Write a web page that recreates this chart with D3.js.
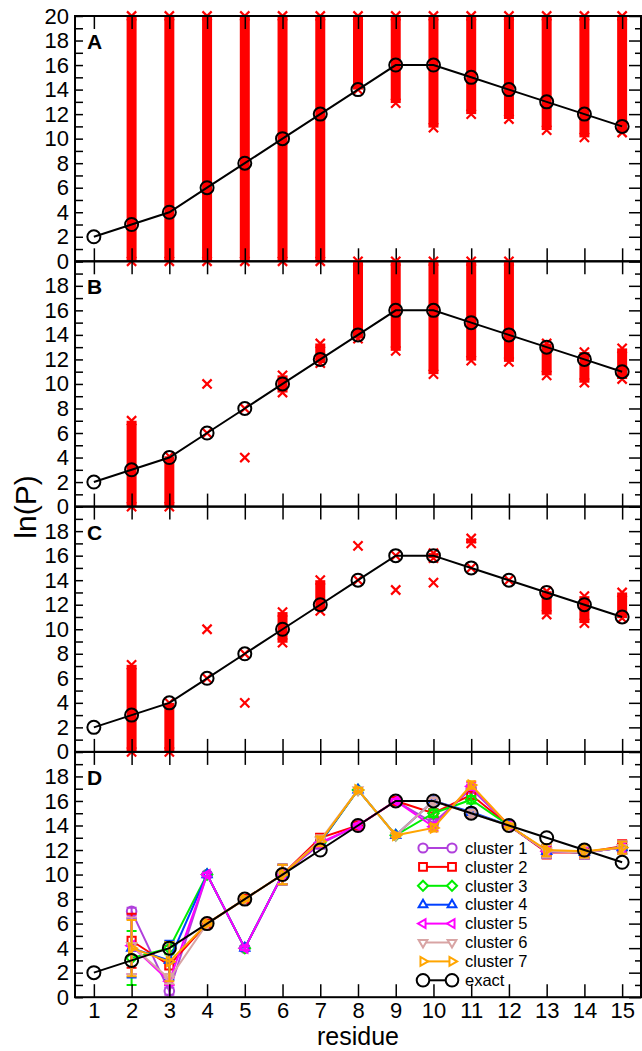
<!DOCTYPE html>
<html>
<head>
<meta charset="utf-8">
<script src="https://cdn.jsdelivr.net/npm/d3@7"></script>
<style>
  body { margin: 0; background: #fff; }
  svg { display: block; }
  text { font-family: "Liberation Sans", Arial, sans-serif; fill: #000; }
</style>
</head>
<body>
<div id="chart"></div>
<script>
// ---- data ----------------------------------------------------------------
const residues = [1, 2, 3, 4, 5, 6, 7, 8, 9, 10, 11, 12, 13, 14, 15];
const exact = [2, 3, 4, 6, 8, 10, 12, 14, 16, 16, 15, 14, 13, 12, 11];

// red crosses, drawn as dense bands: lowest / highest cross per residue
const bandLoA = [null, 0, 0, 0, 0, 0, 0, 14.0, 12.9, 10.9, 12.0, 11.6, 10.7, 10.1, 10.5];
const bandHiA = [null, 20, 20, 20, 20, 20, 20, 20, 20, 20, 20, 20, 20, 20, 20];
const bandLoB = [null, 0, 0, null, null, 9.3, 11.7, 13.7, 12.7, 10.8, 11.9, 11.8, 10.7, 10.1, 10.4];
const bandHiB = [null, 7.0, 4.1, null, null, 10.7, 13.3, 20, 20, 20, 20, 20, 13.3, 12.6, 12.9];
const bandLoC = [null, 0, 0, null, null, 8.9, 11.5, null, null, 15.8, 17.0, null, 11.2, 10.5, 10.9];
const bandHiC = [null, 7.1, 4.0, null, null, 11.4, 14.0, null, null, 16.2, 17.4, null, 13.1, 12.7, 13.0];
// isolated crosses [residue, ln(P)]
const singlesB = [[4, 10], [4, 6], [5, 4], [5, 8]];
const singlesC = [[4, 10], [4, 6], [5, 4], [5, 8], [8, 16.8], [8, 14], [9, 16], [9, 13.2],
                  [10, 13.8], [11, 15], [12, 14]];

// panel D clusters
const clusterNames = ["cluster 1", "cluster 2", "cluster 3", "cluster 4", "cluster 5", "cluster 6", "cluster 7"];
const clusterColors = ["#b040dc", "#ff0000", "#00ee00", "#0040ff", "#ff00ff", "#d8a4a4", "#ffa500"];
const clusterShapes = ["circle", "square", "diamond", "up", "left", "down", "right"];
const cluster1 = [null, 7.0, 0.5, 10, 4, 10, 12.5, 14, 16, 14.2, 17.0, 14, 11.9, 11.8, 12.2];
const cluster2 = [null, 4.6, 2.6, 6, 8, 10, 13.0, 14, 16, 15.0, 16.5, 14, 11.8, 11.8, 12.3];
const cluster3 = [null, 3.2, 4.0, 10, 4, 10, 12.6, 16.9, 13.2, 15.0, 16.1, 14, 11.9, 11.8, 12.2];
const cluster4 = [null, 4.0, 3.0, 10, 4, 10, 12.6, 16.9, 13.2, 16.0, 15.1, 14, 11.9, 11.8, 12.2];
const cluster5 = [null, 4.2, 1.3, 10, 4, 10, 12.6, 14, 16, 13.9, 17.2, 14, 11.9, 11.8, 12.2];
const cluster6 = [null, 4.2, 1.5, 6, 8, 10, 12.8, 16.9, 13.2, 16.0, 15.0, 14, 11.9, 11.8, 12.2];
const cluster7 = [null, 4.0, 2.9, 6, 8, 10, 12.7, 16.9, 13.2, 13.8, 17.3, 14, 12.0, 11.9, 12.2];
// error bar half widths
const err1 = [0, 0.3, 0.3, 0.15, 0.15, 0.8, 0.4, 0.15, 0.15, 0.3, 0.3, 0.15, 0.5, 0.5, 0.5];
const err2 = [0, 2.2, 1.6, 0.15, 0.15, 0.8, 0.3, 0.15, 0.15, 0.3, 0.3, 0.15, 0.5, 0.5, 0.5];
const err3 = [0, 2.2, 0.5, 0.15, 0.15, 0.8, 0.4, 0.15, 0.15, 0.3, 0.3, 0.15, 0.5, 0.5, 0.5];
const err4 = [0, 2.4, 1.6, 0.15, 0.15, 0.8, 0.4, 0.15, 0.15, 0.3, 0.3, 0.15, 0.5, 0.5, 0.5];
const err5 = [0, 2.3, 0.3, 0.15, 0.15, 0.8, 0.4, 0.15, 0.15, 0.3, 0.3, 0.15, 0.5, 0.5, 0.5];
const err6 = [0, 2.3, 0.4, 0.15, 0.15, 0.8, 0.4, 0.15, 0.15, 0.3, 0.3, 0.15, 0.5, 0.5, 0.5];
const err7 = [0, 2.3, 1.6, 0.15, 0.15, 0.8, 0.4, 0.15, 0.15, 0.3, 0.3, 0.15, 0.5, 0.5, 0.5];
const clusters = [cluster1, cluster2, cluster3, cluster4, cluster5, cluster6, cluster7];
const errs = [err1, err2, err3, err4, err5, err6, err7];

const panelLetters = ["A", "B", "C", "D"];
const yMajor = [0, 2, 4, 6, 8, 10, 12, 14, 16, 18, 20];
const yMinor = [1, 3, 5, 7, 9, 11, 13, 15, 17, 19];

// ---- layout --------------------------------------------------------------
const W = 642, H = 1051;
const left = 75, right = 641;
const top0 = 16, panelH = 245.3;

const svg = d3.select("#chart").append("svg")
    .attr("width", W).attr("height", H);

const x = d3.scaleLinear().domain([0.5, 15.5]).range([left, right]);

function crossPath(s) {
    return `M${-s},${-s}L${s},${s}M${-s},${s}L${s},${-s}`;
}

function symbolPath(shape, s) {
    const c = 0.87 * s, h = 0.5 * s;
    switch (shape) {
        case "circle": return `M${-s},0a${s},${s} 0 1,0 ${2 * s},0a${s},${s} 0 1,0 ${-2 * s},0Z`;
        case "square": return `M${-s * 0.85},${-s * 0.85}H${s * 0.85}V${s * 0.85}H${-s * 0.85}Z`;
        case "diamond": return `M0,${-s * 1.1}L${s * 1.1},0L0,${s * 1.1}L${-s * 1.1},0Z`;
        case "up": return `M0,${-s * 1.1}L${c * 1.1},${h * 1.1}L${-c * 1.1},${h * 1.1}Z`;
        case "down": return `M0,${s * 1.1}L${c * 1.1},${-h * 1.1}L${-c * 1.1},${-h * 1.1}Z`;
        case "left": return `M${-s * 1.1},0L${h * 1.1},${-c * 1.1}L${h * 1.1},${c * 1.1}Z`;
        case "right": return `M${s * 1.1},0L${-h * 1.1},${-c * 1.1}L${-h * 1.1},${c * 1.1}Z`;
    }
}

function drawExact(g, y) {
    const line = d3.line().x((d, i) => x(residues[i])).y(d => y(d));
    g.append("path").datum(exact)
        .attr("d", line)
        .attr("fill", "none").attr("stroke", "#000").attr("stroke-width", 2);
    g.selectAll(".exact-pt").data(exact).join("path")
        .attr("class", "exact-pt")
        .attr("transform", (d, i) => `translate(${x(residues[i])},${y(d)})`)
        .attr("d", symbolPath("circle", 6.5))
        .attr("fill", "none").attr("stroke", "#000").attr("stroke-width", 2);
}

function drawBands(g, y, lo, hi) {
    const idx = residues.map((r, i) => i).filter(i => lo[i] != null);
    g.selectAll(".band").data(idx).join("rect")
        .attr("class", "band")
        .attr("x", i => x(residues[i]) - 5)
        .attr("width", 10)
        .attr("y", i => y(hi[i]))
        .attr("height", i => y(lo[i]) - y(hi[i]))
        .attr("fill", "#ff0000");
    const ends = [];
    idx.forEach(i => { ends.push([residues[i], lo[i]]); ends.push([residues[i], hi[i]]); });
    drawCrosses(g, y, ends);
}

function drawCrosses(g, y, pts) {
    g.append("g").selectAll("path").data(pts).join("path")
        .attr("transform", d => `translate(${x(d[0])},${y(d[1])})`)
        .attr("d", crossPath(4.6))
        .attr("fill", "none").attr("stroke", "#ff0000").attr("stroke-width", 2.2);
}

function drawFrame(g, y, p) {
    const yBottom = top0 + panelH * (p + 1), yTop = top0 + panelH * p;
    const labels = p === 0 ? yMajor : yMajor.slice(0, -1);

    g.append("g").attr("transform", `translate(${left},0)`)
        .call(d3.axisLeft(y).tickValues(yMajor).tickSize(-8).tickPadding(6)
            .tickFormat(d => labels.includes(d) ? d : ""))
        .call(a => a.select(".domain").remove())
        .call(a => a.selectAll("text").attr("font-size", 22)
            .attr("font-family", "Liberation Sans, Arial, sans-serif"));
    g.append("g").attr("transform", `translate(${left},0)`)
        .call(d3.axisLeft(y).tickValues(yMinor).tickSize(-8).tickFormat(""))
        .call(a => a.select(".domain").remove());
    g.append("g").attr("transform", `translate(${right},0)`)
        .call(d3.axisRight(y).tickValues(yMajor).tickSize(-12).tickFormat(""))
        .call(a => a.select(".domain").remove());
    g.append("g").attr("transform", `translate(${right},0)`)
        .call(d3.axisRight(y).tickValues(yMinor).tickSize(-6).tickFormat(""))
        .call(a => a.select(".domain").remove());

    const bottom = g.append("g").attr("transform", `translate(0,${yBottom})`)
        .call(d3.axisBottom(x).tickValues(residues).tickSize(-13).tickPadding(5)
            .tickFormat(p === 3 ? d3.format("d") : ""))
        .call(a => a.select(".domain").remove());
    bottom.selectAll("text").attr("font-size", 22)
        .attr("font-family", "Liberation Sans, Arial, sans-serif");
    g.append("g").attr("transform", `translate(0,${yTop})`)
        .call(d3.axisTop(x).tickValues(residues).tickSize(-13).tickFormat(""))
        .call(a => a.select(".domain").remove());

    g.selectAll(".tick line").attr("stroke", "#000").attr("stroke-width", 1.5);

    g.append("rect")
        .attr("x", left).attr("y", yTop)
        .attr("width", right - left).attr("height", panelH)
        .attr("fill", "none").attr("stroke", "#000").attr("stroke-width", 2);

    g.append("text")
        .attr("x", 87).attr("y", yTop + 33)
        .attr("font-size", 21).attr("font-weight", "bold")
        .text(panelLetters[p]);
}

const bandsLo = [bandLoA, bandLoB, bandLoC];
const bandsHi = [bandHiA, bandHiB, bandHiC];
const singles = [[], singlesB, singlesC];

panelLetters.forEach((L, p) => {
    const yTop = top0 + panelH * p;
    const y = d3.scaleLinear().domain([0, 20]).range([yTop + panelH, yTop]);
    const g = svg.append("g").attr("class", "panel-" + L);

    if (p < 3) {
        drawBands(g, y, bandsLo[p], bandsHi[p]);
        drawCrosses(g, y, singles[p]);
        drawExact(g, y);
    } else {
        clusters.forEach((vals, c) => {
            const col = clusterColors[c];
            const cg = g.append("g");
            const line = d3.line()
                .defined(d => d != null)
                .x((d, i) => x(residues[i])).y(d => y(d));
            cg.append("path").datum(vals)
                .attr("d", line)
                .attr("fill", "none").attr("stroke", col).attr("stroke-width", 2);
            const idx = residues.map((r, i) => i).filter(i => vals[i] != null);
            const e = errs[c];
            cg.selectAll(".err").data(idx).join("path")
                .attr("class", "err")
                .attr("d", i => {
                    const cx = x(residues[i]), y1 = y(vals[i] - e[i]), y2 = y(vals[i] + e[i]);
                    return `M${cx},${y1}V${y2}M${cx - 5},${y1}H${cx + 5}M${cx - 5},${y2}H${cx + 5}`;
                })
                .attr("fill", "none").attr("stroke", col).attr("stroke-width", 2);
            cg.selectAll(".pt").data(idx).join("path")
                .attr("class", "pt")
                .attr("transform", i => `translate(${x(residues[i])},${y(vals[i])})`)
                .attr("d", symbolPath(clusterShapes[c], 4.8))
                .attr("fill", "none").attr("stroke", col).attr("stroke-width", 2);
        });
        drawExact(g, y);

        // legend
        const leg = g.append("g");
        const legNames = clusterNames.concat(["exact"]);
        const legColors = clusterColors.concat(["#000"]);
        const legShapes = clusterShapes.concat(["circle"]);
        legNames.forEach((name, k) => {
            const ly = 848 + k * 18.9;
            const s = k === 7 ? 6.3 : 4.6;
            leg.append("line")
                .attr("x1", 423).attr("x2", 452).attr("y1", ly).attr("y2", ly)
                .attr("stroke", legColors[k]).attr("stroke-width", 2);
            [423, 452].forEach(lx => {
                leg.append("path")
                    .attr("transform", `translate(${lx},${ly})`)
                    .attr("d", symbolPath(legShapes[k], s))
                    .attr("fill", "#fff").attr("stroke", legColors[k]).attr("stroke-width", 2);
            });
            leg.append("text")
                .attr("x", 465).attr("y", ly)
                .attr("dy", "0.35em")
                .attr("font-size", 16.5)
                .text(name);
        });
    }
    drawFrame(g, y, p);
});

// axis titles
svg.append("text")
    .attr("x", 358).attr("y", 1045)
    .attr("text-anchor", "middle")
    .attr("font-size", 25)
    .text("residue");

svg.append("text")
    .attr("transform", `translate(36,507) rotate(-90)`)
    .attr("text-anchor", "middle")
    .attr("font-size", 30)
    .text("ln(P)");
</script>
</body>
</html>
